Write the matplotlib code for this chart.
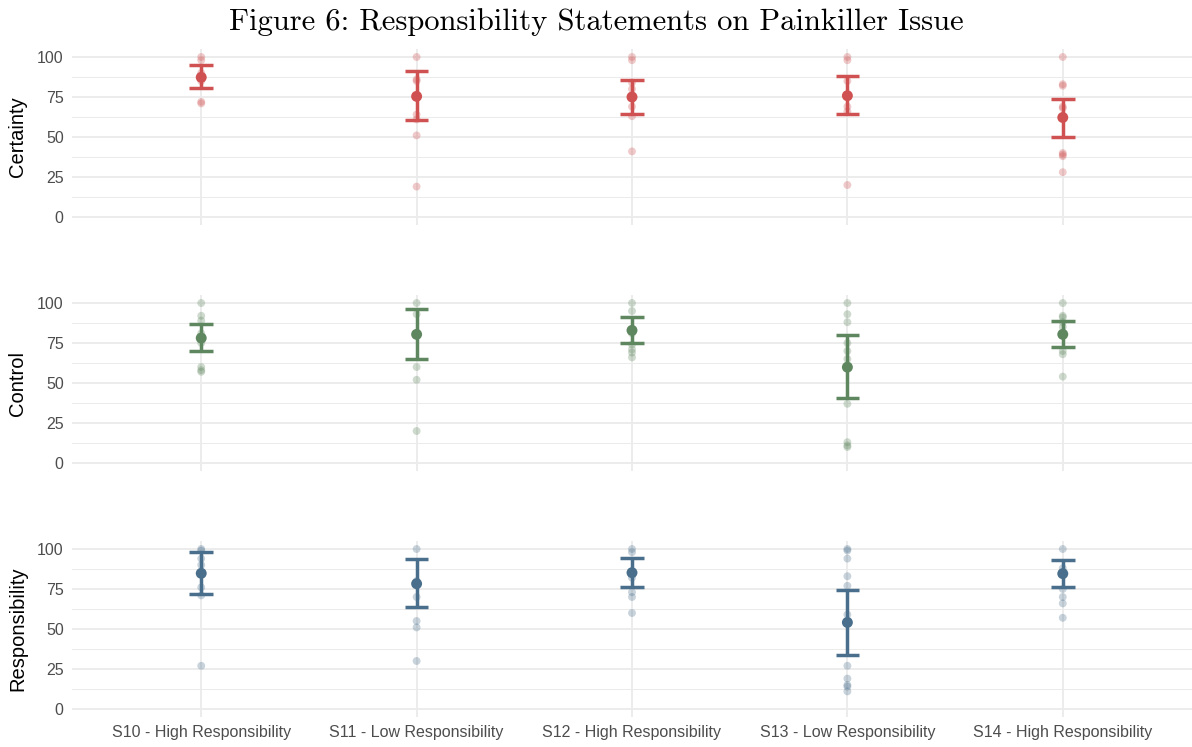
import matplotlib
matplotlib.use("Agg")
import matplotlib.pyplot as plt
import numpy as np

# ---------------- data ----------------
categories = ["S10 - High Responsibility", "S11 - Low Responsibility",
              "S12 - High Responsibility", "S13 - Low Responsibility",
              "S14 - High Responsibility"]
measures = ["Certainty", "Control", "Responsibility"]
colors = ["#D05151", "#5F875F", "#4A6F8C"]
yticks = [0, 25, 50, 75, 100]

# individual responses (visible points)
certainty_points = [
    [100, 98, 90, 85, 72, 71],
    [100, 86, 85, 64, 61, 51, 19],
    [100, 98, 84, 80, 75, 69, 63, 41],
    [100, 98, 85, 76, 69, 66, 20],
    [100, 83, 82, 69, 68, 40, 39, 38, 28],
]
certainty_mean = [87.3, 75.4, 75.0, 75.8, 62.2]
certainty_low = [80.6, 60.5, 64.5, 64.3, 50.3]
certainty_high = [94.8, 91.0, 85.8, 87.9, 73.9]

control_points = [
    [100, 92, 89, 81, 78, 75, 60, 58, 57],
    [100, 93, 60, 52, 20],
    [100, 95, 81, 74, 71, 69, 66],
    [100, 93, 88, 75, 70, 65, 37, 13, 11, 10],
    [100, 92, 91, 88, 85, 70, 68, 54],
]
control_mean = [78.1, 80.4, 82.9, 59.9, 80.4]
control_low = [69.7, 64.7, 74.9, 40.5, 72.7]
control_high = [86.8, 96.5, 91.2, 79.7, 88.5]

responsibility_points = [
    [100, 99, 94, 90, 85, 76, 71, 27],
    [100, 80, 70, 55, 51, 30],
    [100, 98, 82, 73, 70, 60],
    [100, 99, 94, 83, 77, 59, 27, 19, 15, 14, 11],
    [100, 88, 75, 70, 66, 57],
]
responsibility_mean = [84.8, 78.3, 85.2, 54.1, 84.6]
responsibility_low = [71.8, 63.9, 76.2, 33.8, 76.4]
responsibility_high = [97.9, 93.5, 94.2, 74.5, 93.3]

all_points = [certainty_points, control_points, responsibility_points]
all_mean = [certainty_mean, control_mean, responsibility_mean]
all_low = [certainty_low, control_low, responsibility_low]
all_high = [certainty_high, control_high, responsibility_high]

# ---------------- figure ----------------
W, H = 1192, 747
fig = plt.figure(figsize=(W / 100, H / 100), dpi=100)
fig.patch.set_facecolor("white")

grid_col = "#EBEBEB"
tick_col = "#4D4D4D"
sans = ["Liberation Sans", "DejaVu Sans"]

left_px, right_px = 72, 1192
panel_tops = [49, 295, 541]
panel_h = 176

x = np.arange(1, len(categories) + 1)

for i, m in enumerate(measures):
    top = panel_tops[i]
    ax = fig.add_axes([left_px / W, 1 - (top + panel_h) / H,
                       (right_px - left_px) / W, panel_h / H])
    ax.set_facecolor("white")
    for s in ax.spines.values():
        s.set_visible(False)
    ax.set_xlim(0.4, len(categories) + 0.6)
    ax.set_ylim(-5, 105)

    # grid
    for yv in yticks:
        ax.axhline(yv, color=grid_col, lw=1.3, zorder=0)
    for yv in [12.5, 37.5, 62.5, 87.5]:
        ax.axhline(yv, color=grid_col, lw=0.7, zorder=0)
    for xv in x:
        ax.axvline(xv, color=grid_col, lw=1.3, zorder=0)

    col = colors[i]
    for j in range(len(categories)):
        pts = all_points[i][j]
        ax.scatter(np.full(len(pts), x[j]), pts, s=32, color=col,
                   alpha=0.3, edgecolors="none", zorder=2)
        ax.vlines(x[j], all_low[i][j], all_high[i][j], color=col, lw=2.5, zorder=3)
        ax.hlines([all_low[i][j], all_high[i][j]], x[j] - 0.055, x[j] + 0.055,
                  color=col, lw=2.5, zorder=3)
        ax.scatter([x[j]], [all_mean[i][j]], s=62, color=col,
                   edgecolors="none", zorder=4)

    ax.set_yticks(yticks)
    ax.set_yticklabels([str(v) for v in yticks], fontsize=11.5,
                       color=tick_col, family=sans)
    ax.tick_params(axis="both", length=0, pad=6)
    ax.set_xticks(x)
    if i == len(measures) - 1:
        ax.set_xticklabels(categories, fontsize=11.5, color=tick_col, family=sans)
    else:
        ax.set_xticklabels([])

    cy = 1 - (top + panel_h / 2) / H
    fig.text(18 / W, cy, m, rotation=90, ha="center", va="center",
             fontsize=14.5, color="black", family=sans)

fig.text(0.5, 1 - 22 / H, "Figure 6: Responsibility Statements on Painkiller Issue",
         ha="center", va="center", fontsize=22, family=["cmr10", "DejaVu Serif"])

fig.savefig("out.png", dpi=100, facecolor="white")
